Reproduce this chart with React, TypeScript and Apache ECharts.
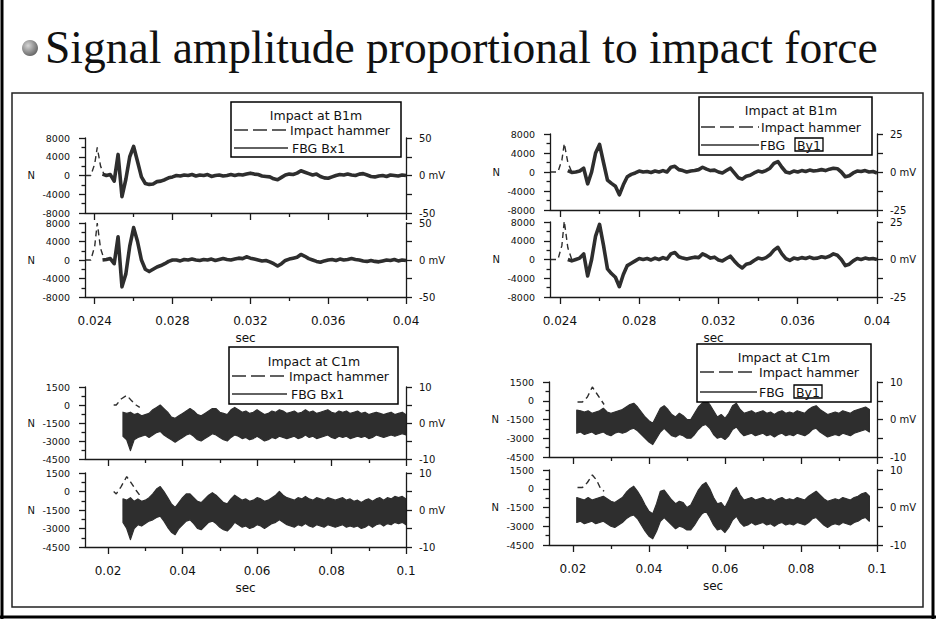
import React, { useEffect, useRef } from 'react';
import * as echarts from 'echarts';

// ---------- tick labels ----------
const X_TICKS_TOP = [0.024, 0.028, 0.032, 0.036, 0.04];
const X_MINOR_TOP = [0.026, 0.03, 0.034, 0.038];
const X_TICKS_BOTTOM = [0.02, 0.04, 0.06, 0.08, 0.1];
const X_MINOR_BOTTOM = [0.03, 0.05, 0.07, 0.09];

// ---------- impact at B1m (top panels) ----------
const TIME_TOP = [
  0.0244, 0.0246, 0.0248, 0.025, 0.0252, 0.0254, 0.0256, 0.0258, 0.026, 0.0262,
  0.0264, 0.0266, 0.0268, 0.027, 0.0272, 0.0274, 0.0276, 0.0278, 0.028, 0.0282,
  0.0284, 0.0286, 0.0288, 0.029, 0.0292, 0.0294, 0.0296, 0.0298, 0.03, 0.0302,
  0.0304, 0.0306, 0.0308, 0.031, 0.0312, 0.0314, 0.0316, 0.0318, 0.032, 0.0322,
  0.0324, 0.0326, 0.0328, 0.033, 0.0332, 0.0334, 0.0336, 0.0338, 0.034, 0.0342,
  0.0344, 0.0346, 0.0348, 0.035, 0.0352, 0.0354, 0.0356, 0.0358, 0.036, 0.0362,
  0.0364, 0.0366, 0.0368, 0.037, 0.0372, 0.0374, 0.0376, 0.0378, 0.038, 0.0382,
  0.0384, 0.0386, 0.0388, 0.039, 0.0392, 0.0394, 0.0396, 0.0398, 0.04,
];
const TL_UPPER_FBG = [
  300, 0, 200, -1200, 4500, -4500, -800, 4000, 6200, 3000,
  -300, -1700, -1900, -1800, -1300, -1200, -900, -500, -300, 0,
  -100, 100, 0, 200, -100, 100, 0, 200, -200, 0,
  100, -100, 0, 200, 0, 200, 100, 300, 500, 300,
  200, -100, -200, -300, -700, -900, -400, 100, 300, 200,
  500, 1000, 700, 400, 100, 300, -200, -500, -600, -300,
  0, 200, 100, 300, 100, 0, 300, 400, 100, -200,
  -300, -100, 0, -200, 100, 0, -100, 100, 0,
];
const TL_LOWER_FBG = [
  0, 100, 300, -800, 5000, -5800, -3000, 3000, 7000, 4000,
  0, -2000, -2500, -2000, -1500, -1200, -800, -300, 0,
  0, -200, 100, 0, 200, 0, -100, 100, 0, 200,
  -100, 100, 300, 100, 0, 200, 400, 300, 700, 400,
  200, 0, -200, -100, -400, -800, -1300, -800, -100, 200,
  400, 600, 1200, 800, 300, 0, -300, -500, -200, 0,
  100, -100, 200, 0, 100, 300, 100, 0, -200, -300,
  -100, -300, -400, -200, 0, -100, 100, -200, 0, -100,
];
const TR_UPPER_FBG = [
  300, -100, 0, 200, 800, -2500, 0, 4000, 5800, 2000,
  -1700, -2400, -3000, -4800, -2700, -1000, -500, -200, 200, 0,
  100, -100, 200, 0, 300, 0, 1000, 1200, 500, 300,
  0, 200, 300, 500, 1000, 600, 300, 400, 0, -200,
  300, 800, -200, -1200, -1500, -900, -700, -200, 200, 0,
  300, 800, 1800, 2200, 1000, 0, -200, 200, 0, 300,
  100, 400, 200, 300, 500, 300, 600, 800, 700, 0,
  -1000, -800, -200, 200, 100, 300, 0, 100, -200,
];
const TR_LOWER_FBG = [
  0, -300, 0, 300, 1200, -3500, 0, 5000, 7500, 3000,
  -2000, -3000, -3800, -5800, -3200, -1300, -800, -300, 200, 0,
  200, -100, 300, 0, 400, 100, 1200, 1500, 600, 300,
  100, 300, 500, 400, 1200, 800, 300, 500, -100, -300,
  200, 700, -300, -1200, -1800, -1000, -800, -200, 300, 100,
  400, 1000, 2000, 2600, 1200, 200, -200, 300, 100, 400,
  200, 500, 200, 300, 600, 400, 700, 1200, 900, 0,
  -1300, -1000, -300, 200, 0, 300, 100, 200, 0,
];
const HAMMER_TIME_TL = [0.0235, 0.0238, 0.024, 0.02413, 0.0243, 0.0245];
const TL_UPPER_HAMMER = [0, 0, 2500, 6000, 2000, 0];
const TL_LOWER_HAMMER = [0, 0, 3000, 8000, 2500, 0];
const HAMMER_TIME_TR = [0.0235, 0.0239, 0.0241, 0.02422, 0.0244, 0.0246];
const TR_UPPER_HAMMER = [0, 0, 2500, 6000, 2000, 0];
const TR_LOWER_HAMMER = [0, 0, 3000, 8200, 2500, 0];

// ---------- impact at C1m (bottom panels): band envelopes ----------
const TIME_BL = [
  0.024, 0.025, 0.026, 0.027, 0.028, 0.029, 0.03, 0.031, 0.032, 0.033,
  0.034, 0.035, 0.036, 0.037, 0.038, 0.039, 0.04, 0.041, 0.042, 0.043,
  0.044, 0.045, 0.046, 0.047, 0.048, 0.049, 0.05, 0.051, 0.052, 0.053,
  0.054, 0.055, 0.056, 0.057, 0.058, 0.059, 0.06, 0.061, 0.062, 0.063,
  0.064, 0.065, 0.066, 0.067, 0.068, 0.069, 0.07, 0.071, 0.072, 0.073,
  0.074, 0.075, 0.076, 0.077, 0.078, 0.079, 0.08, 0.081, 0.082, 0.083,
  0.084, 0.085, 0.086, 0.087, 0.088, 0.089, 0.09, 0.091, 0.092, 0.093,
  0.094, 0.095, 0.096, 0.097, 0.098, 0.099, 0.1,
];
const BL_UPPER_TOP = [
  -600, -700, -600, -800, -700, -900, -800, -700, -400, -200,
  0, -300, -600, -1000, -1100, -900, -700, -500, -300, -500,
  -800, -900, -700, -500, -300, -300, -600, -700, -800, -400,
  -200, -400, -600, -500, -700, -600, -400, -600, -800, -700,
  -500, -600, -400, -500, -700, -600, -500, -700, -600, -400,
  -600, -500, -700, -600, -500, -400, -600, -700, -500, -600,
  -500, -700, -600, -500, -700, -600, -800, -700, -600, -700,
  -800, -700, -600, -800, -700, -600, -800,
];
const BL_UPPER_BOTTOM = [
  -2600, -2900, -3800, -2900, -2700, -2600, -2500, -2700, -2500, -2300,
  -2200, -2500, -2700, -2900, -3100, -2900, -2700, -2500, -2400, -2600,
  -2900, -3000, -2800, -2600, -2400, -2500, -2700, -2900, -3000, -2700,
  -2500, -2600, -2800, -2700, -2900, -2800, -2600, -2800, -3000, -2900,
  -2700, -2800, -2600, -2700, -2800, -2700, -2600, -2800, -2700, -2500,
  -2700, -2600, -2800, -2700, -2600, -2500, -2700, -2800, -2600, -2700,
  -2600, -2800, -2700, -2600, -2700, -2600, -2800, -2700, -2500, -2600,
  -2700, -2600, -2500, -2600, -2500, -2400, -2500,
];
const BL_LOWER_TOP = [
  -600, -700, -500, -800, -600, -800, -700, -500, -200, 200,
  400, 0, -500, -1000, -1300, -900, -500, -200, -200, -500,
  -800, -900, -600, -300, -100, -300, -600, -900, -1000, -600,
  -300, -500, -700, -600, -800, -700, -500, -600, -800, -700,
  -500, -300, 0, -300, -500, -600, -700, -500, -600, -400,
  -600, -700, -500, -600, -700, -500, -600, -700, -600, -500,
  -700, -600, -800, -700, -900, -700, -600, -800, -600, -500,
  -700, -500, -600, -400, -500, -400, -600,
];
const BL_LOWER_BOTTOM = [
  -2500, -3000, -3900, -3000, -2700, -2800, -2600, -2400, -2300, -2100,
  -2000, -2400, -2900, -3300, -3500, -3000, -2700, -2400, -2300, -2600,
  -3000, -3100, -2800, -2500, -2400, -2600, -2900, -3100, -3200, -2900,
  -2500, -2700, -2900, -2800, -3000, -2900, -2700, -2800, -3000, -2800,
  -2600, -2500, -2300, -2500, -2700, -2800, -2900, -2700, -2800, -2600,
  -2800, -2900, -2700, -2800, -2900, -2700, -2800, -2900, -2800, -2700,
  -2900, -2800, -2900, -2800, -3000, -2900, -2700, -2900, -2700, -2600,
  -2800, -2600, -2700, -2500, -2600, -2500, -2700,
];
const TIME_BR = [
  0.021, 0.022, 0.023, 0.024, 0.025, 0.026, 0.027, 0.028, 0.029, 0.03,
  0.031, 0.032, 0.033, 0.034, 0.035, 0.036, 0.037, 0.038, 0.039, 0.04,
  0.041, 0.042, 0.043, 0.044, 0.045, 0.046, 0.047, 0.048, 0.049, 0.05,
  0.051, 0.052, 0.053, 0.054, 0.055, 0.056, 0.057, 0.058, 0.059, 0.06,
  0.061, 0.062, 0.063, 0.064, 0.065, 0.066, 0.067, 0.068, 0.069, 0.07,
  0.071, 0.072, 0.073, 0.074, 0.075, 0.076, 0.077, 0.078, 0.079, 0.08,
  0.081, 0.082, 0.083, 0.084, 0.085, 0.086, 0.087, 0.088, 0.089, 0.09,
  0.091, 0.092, 0.093, 0.094, 0.095, 0.096, 0.097, 0.098,
];
const BR_UPPER_TOP = [
  -750, -800, -900, -800, -1000, -900, -800, -600, -900, -1000,
  -900, -800, -700, -500, -300, -200, -500, -900, -1300, -1600,
  -1800, -1200, -600, -400, -700, -1100, -1300, -1000, -1200, -1500,
  -1500, -1000, -500, -200, 100, -300, -800, -1300, -1100, -1400,
  -1000, -400, -200, -700, -1000, -900, -800, -1000, -900, -800,
  -1000, -900, -1100, -900, -800, -1000, -900, -1000, -800, -900,
  -1000, -700, -500, -400, -700, -900, -1100, -1000, -900, -1000,
  -800, -900, -1000, -800, -700, -600, -500, -700,
];
const BR_UPPER_BOTTOM = [
  -2600, -2500, -2700, -2600, -2500, -2700, -2600, -2500, -2700, -2800,
  -2600, -2500, -2600, -2500, -2300, -2200, -2400, -2700, -3000, -3300,
  -3500, -3000, -2500, -2200, -2500, -2800, -2900, -2700, -2800, -3000,
  -3000, -2700, -2300, -2000, -1900, -2200, -2700, -3000, -2900, -3100,
  -2800, -2300, -2100, -2500, -2800, -2700, -2600, -2800, -2700, -2600,
  -2800, -2700, -2900, -2700, -2600, -2800, -2700, -2800, -2600, -2700,
  -2800, -2600, -2300, -2200, -2500, -2700, -2900, -2800, -2700, -2800,
  -2600, -2700, -2800, -2600, -2500, -2400, -2300, -2500,
];
const BR_LOWER_TOP = [
  -700, -800, -900, -700, -900, -800, -700, -600, -800, -1000,
  -1100, -900, -700, -300, 0, 200, -200, -700, -1300, -1800,
  -2000, -1200, -200, -100, -500, -900, -1200, -1000, -1100, -1500,
  -1300, -700, -100, 300, 500, 0, -700, -1200, -1100, -1500,
  -900, -200, 100, -500, -900, -800, -700, -900, -800, -700,
  -900, -800, -1000, -800, -700, -900, -800, -900, -700, -800,
  -900, -600, -400, -200, -500, -800, -1000, -900, -800, -900,
  -700, -800, -900, -700, -600, -400, -300, -600,
];
const BR_LOWER_BOTTOM = [
  -2700, -2600, -2800, -2700, -2600, -2800, -2700, -2600, -2800, -3000,
  -3100, -2900, -2700, -2400, -2200, -2100, -2400, -2900, -3400, -3800,
  -4000, -3400, -2600, -2300, -2600, -2900, -3200, -3000, -3100, -3300,
  -3300, -2900, -2400, -2000, -1800, -2300, -2900, -3300, -3200, -3500,
  -3100, -2500, -2200, -2700, -3000, -2900, -2700, -2900, -2800, -2700,
  -2900, -2800, -3000, -2800, -2700, -2900, -2800, -2900, -2700, -2800,
  -2900, -2700, -2400, -2300, -2600, -2900, -3100, -2900, -2800, -2900,
  -2700, -2800, -2900, -2700, -2600, -2400, -2300, -2600,
];
const HAMMER_TIME_BL = [0.0215, 0.0222, 0.0235, 0.025, 0.0262, 0.0275, 0.0285];
const BL_UPPER_HAMMER = [0, 0, 500, 800, 400, 0, -200];
const BL_LOWER_HAMMER = [0, -200, 400, 1200, 700, 100, -300];
const HAMMER_TIME_BR = [0.0212, 0.0225, 0.0238, 0.0251, 0.0262, 0.0273, 0.0282];
const BR_UPPER_HAMMER = [-100, -100, 300, 1100, 600, 100, -300];
const BR_LOWER_HAMMER = [100, 100, 500, 1100, 700, 0, -200];

// ---------- styling ----------
const INK = '#2e2e2e';
const AXIS = '#1a1a1a';
const SANS = '"DejaVu Sans", sans-serif';

const zip = (a: number[], b: number[]) => a.map((t, i) => [t, b[i]]);

type Sub = {
  time: number[];
  fbg?: number[];
  top?: number[];
  bottom?: number[];
  ht: number[];
  hv: number[];
};
type Panel = {
  left: number;
  width: number;
  tops: number[];
  heights: number[];
  xr: number[];
  major: number[];
  minor: number[];
  y: number[];
  r: number[];
  subs: Sub[];
};

const PANELS: Panel[] = [
  {
    left: 85, width: 321, tops: [138, 223], heights: [75, 74], xr: [0.0235, 0.04],
    major: X_TICKS_TOP, minor: X_MINOR_TOP, y: [-8000, 8000, 4000], r: [-50, 50, 25],
    subs: [
      { time: TIME_TOP, fbg: TL_UPPER_FBG, ht: HAMMER_TIME_TL, hv: TL_UPPER_HAMMER },
      { time: TIME_TOP, fbg: TL_LOWER_FBG, ht: HAMMER_TIME_TL, hv: TL_LOWER_HAMMER },
    ],
  },
  {
    left: 550, width: 327, tops: [134, 222], heights: [76, 75], xr: [0.0235, 0.04],
    major: X_TICKS_TOP, minor: X_MINOR_TOP, y: [-8000, 8000, 4000], r: [-25, 25, 12.5],
    subs: [
      { time: TIME_TOP, fbg: TR_UPPER_FBG, ht: HAMMER_TIME_TR, hv: TR_UPPER_HAMMER },
      { time: TIME_TOP, fbg: TR_LOWER_FBG, ht: HAMMER_TIME_TR, hv: TR_LOWER_HAMMER },
    ],
  },
  {
    left: 85, width: 321, tops: [387, 473], heights: [72, 74], xr: [0.0138, 0.1],
    major: X_TICKS_BOTTOM, minor: X_MINOR_BOTTOM, y: [-4500, 1500, 1500], r: [-10, 10, 5],
    subs: [
      { time: TIME_BL, top: BL_UPPER_TOP, bottom: BL_UPPER_BOTTOM, ht: HAMMER_TIME_BL, hv: BL_UPPER_HAMMER },
      { time: TIME_BL, top: BL_LOWER_TOP, bottom: BL_LOWER_BOTTOM, ht: HAMMER_TIME_BL, hv: BL_LOWER_HAMMER },
    ],
  },
  {
    left: 549, width: 328, tops: [382, 470], heights: [75, 75], xr: [0.0137, 0.1],
    major: X_TICKS_BOTTOM, minor: X_MINOR_BOTTOM, y: [-4500, 1500, 1500], r: [-10, 10, 5],
    subs: [
      { time: TIME_BR, top: BR_UPPER_TOP, bottom: BR_UPPER_BOTTOM, ht: HAMMER_TIME_BR, hv: BR_UPPER_HAMMER },
      { time: TIME_BR, top: BR_LOWER_TOP, bottom: BR_LOWER_BOTTOM, ht: HAMMER_TIME_BR, hv: BR_LOWER_HAMMER },
    ],
  },
];

type Leg = {
  x: number; y: number; w: number; h: number; title: string; tx: number; ty: number;
  dashY: number; solidY: number; lx1: number; lx2: number; hx: number; fx: number;
  fbg: string; boxed?: string; bx?: number;
};
const LEGENDS: Leg[] = [
  { x: 231, y: 102, w: 170, h: 55, title: 'Impact at B1m', tx: 316, ty: 115, dashY: 130, solidY: 148, lx1: 234, lx2: 288, hx: 290, fx: 292, fbg: 'FBG Bx1' },
  { x: 699, y: 97, w: 173, h: 58, title: 'Impact at B1m', tx: 791, ty: 110, dashY: 127, solidY: 145, lx1: 701, lx2: 759, hx: 761, fx: 760, fbg: 'FBG', boxed: 'By1', bx: 795 },
  { x: 229, y: 347, w: 169, h: 57, title: 'Impact at C1m', tx: 314, ty: 361, dashY: 376, solidY: 394, lx1: 232, lx2: 287, hx: 289, fx: 291, fbg: 'FBG Bx1' },
  { x: 697, y: 344, w: 174, h: 58, title: 'Impact at C1m', tx: 784, ty: 357, dashY: 372, solidY: 392, lx1: 700, lx2: 757, hx: 759, fx: 759, fbg: 'FBG', boxed: 'By1', bx: 794 },
];

function txt(x: number, y: number, text: string, size: number, align: string, family = SANS, z = 50) {
  return {
    type: 'text', x, y, z, silent: true,
    style: {
      text, fill: '#111', font: `${size}px ${family}`, fontSize: size, fontFamily: family,
      textAlign: align, align, textVerticalAlign: 'middle', verticalAlign: 'middle',
    },
  };
}

function legendElements(l: Leg): any[] {
  const els: any[] = [
    { type: 'rect', z: 40, shape: { x: l.x, y: l.y, width: l.w, height: l.h }, style: { fill: '#fff', stroke: '#000', lineWidth: 1.5 } },
    txt(l.tx, l.ty, l.title, 12.5, 'center'),
    { type: 'line', z: 50, shape: { x1: l.lx1, y1: l.dashY, x2: l.lx2, y2: l.dashY }, style: { stroke: INK, lineWidth: 1.3, lineDash: [14, 5] } },
    txt(l.hx, l.dashY, 'Impact hammer', 12.5, 'left'),
    { type: 'line', z: 50, shape: { x1: l.lx1, y1: l.solidY, x2: l.lx2, y2: l.solidY }, style: { stroke: INK, lineWidth: 1.3 } },
    txt(l.fx, l.solidY, l.fbg, 12.5, 'left'),
  ];
  if (l.boxed && l.bx) {
    els.push({ type: 'rect', z: 50, shape: { x: l.bx, y: l.solidY - 7, width: 28, height: 13 }, style: { fill: 'none', stroke: '#000', lineWidth: 1.3 } });
    els.push(txt(l.bx + 2, l.solidY, l.boxed, 12.5, 'left'));
  }
  return els;
}

function bandSeries(s: Sub, xi: number, yi: number) {
  const time = s.time;
  const top = s.top as number[];
  const bottom = s.bottom as number[];
  return {
    type: 'custom', xAxisIndex: xi, yAxisIndex: yi, silent: true, z: 3, clip: true,
    data: time.map((t, i) => [t, top[i], bottom[i]]),
    encode: { x: 0, y: [1, 2] },
    renderItem: (params: any, api: any) => {
      if (params.dataIndex !== 0) return null;
      const upper = time.map((t, i) => api.coord([t, top[i]]));
      const lower = time.map((t, i) => api.coord([t, bottom[i]])).reverse();
      return {
        type: 'polygon',
        shape: { points: upper.concat(lower) },
        style: { fill: INK, stroke: INK, lineWidth: 1.2, lineJoin: 'round' },
      };
    },
  };
}

function buildOption() {
  const grid: any[] = [];
  const xAxis: any[] = [];
  const yAxis: any[] = [];
  const series: any[] = [];
  const axisLine = { show: true, onZero: false, lineStyle: { color: AXIS, width: 1.3 } };
  const tickLine = { color: AXIS, width: 1.3 };

  PANELS.forEach((p) => {
    p.subs.forEach((s, j) => {
      const g = grid.length;
      const lower = j === 1;
      grid.push({ left: p.left, top: p.tops[j], width: p.width, height: p.heights[j], containLabel: false, outerBoundsMode: 'none' });
      xAxis.push({
        gridIndex: g, type: 'value', min: p.xr[0], max: p.xr[1], position: 'bottom', z: 10,
        axisLine, splitLine: { show: false },
        axisTick: { show: true, customValues: p.major, length: 7, inside: false, lineStyle: tickLine },
        axisLabel: { show: lower, customValues: p.major, margin: 18, fontSize: 12, fontFamily: SANS, color: '#111' },
        name: lower ? 'sec' : '', nameLocation: 'middle', nameGap: 35, nameMoveOverlap: false,
        nameTextStyle: { fontSize: 12, fontFamily: SANS, color: '#111' },
      });
      xAxis.push({
        gridIndex: g, type: 'value', min: p.xr[0], max: p.xr[1], position: 'bottom', z: 10,
        axisLine: { show: false, onZero: false }, splitLine: { show: false },
        axisTick: { show: true, customValues: p.minor, length: 4, lineStyle: tickLine },
        axisLabel: { show: false },
      });
      yAxis.push({
        gridIndex: g, type: 'value', position: 'left', min: p.y[0], max: p.y[1], interval: p.y[2], z: 10,
        axisLine, splitLine: { show: false },
        axisTick: { show: true, length: 6, lineStyle: tickLine },
        minorTick: { show: true, splitNumber: 2, length: 3.5, lineStyle: tickLine },
        minorSplitLine: { show: false },
        axisLabel: { margin: 15, fontSize: 9.5, fontFamily: SANS, color: '#111', formatter: (v: number) => String(v) },
        name: 'N', nameLocation: 'middle', nameRotate: 0, nameGap: 50, nameMoveOverlap: false,
        nameTextStyle: { fontSize: 10, fontFamily: SANS, color: '#111' },
      });
      const rMax = p.r[1];
      yAxis.push({
        gridIndex: g, type: 'value', position: 'right', min: p.r[0], max: p.r[1], interval: p.r[2], z: 10,
        axisLine, splitLine: { show: false },
        axisTick: { show: true, length: 6, lineStyle: tickLine },
        axisLabel: {
          margin: 13, fontSize: 10, fontFamily: SANS, color: '#111',
          formatter: (v: number) => (v === 0 ? '0 mV' : Math.abs(v) === rMax ? String(v) : ''),
        },
      });

      const xi = 2 * g;
      const yi = 2 * g;
      if (s.fbg) {
        series.push({
          type: 'line', xAxisIndex: xi, yAxisIndex: yi, data: zip(s.time, s.fbg), symbol: 'none',
          silent: true, z: 3, lineStyle: { color: INK, width: 3.6, join: 'round' },
        });
      } else if (s.top && s.bottom) {
        series.push(bandSeries(s, xi, yi));
      }
      series.push({
        type: 'line', xAxisIndex: xi, yAxisIndex: yi, data: zip(s.ht, s.hv), symbol: 'none',
        silent: true, z: 4, lineStyle: { color: INK, width: 1.4, type: [6, 4] },
      });
    });
  });

  const graphic: any[] = [
    { type: 'line', z: 60, shape: { x1: 2, y1: 0, x2: 2, y2: 619 }, style: { stroke: '#000', lineWidth: 3 } },
    { type: 'line', z: 60, shape: { x1: 933, y1: 0, x2: 933, y2: 619 }, style: { stroke: '#000', lineWidth: 3 } },
    { type: 'line', z: 60, shape: { x1: 0, y1: 617, x2: 936, y2: 617 }, style: { stroke: '#000', lineWidth: 3 } },
    { type: 'rect', z: 60, shape: { x: 12, y: 93, width: 911, height: 514 }, style: { fill: 'none', stroke: '#222', lineWidth: 1.5 } },
    {
      type: 'circle', z: 60, shape: { cx: 30, cy: 48, r: 8 },
      style: {
        fill: {
          type: 'radial', x: 0.38, y: 0.35, r: 0.75,
          colorStops: [{ offset: 0, color: '#d6d6d6' }, { offset: 0.6, color: '#8a8a8a' }, { offset: 1, color: '#5a5a5a' }],
        },
      },
    },
    txt(45, 47, 'Signal amplitude proportional to impact force', 45.5, 'left', '"Liberation Serif", serif', 60),
  ];
  LEGENDS.forEach((l) => graphic.push(...legendElements(l)));

  return {
    animation: false,
    backgroundColor: '#ffffff',
    grid, xAxis, yAxis, series, graphic,
  };
}

export default function App() {
  const ref = useRef<HTMLDivElement>(null);
  useEffect(() => {
    if (!ref.current) return;
    const chart = echarts.init(ref.current, null, { renderer: 'svg', width: 936, height: 619 });
    chart.setOption(buildOption() as any);
    return () => chart.dispose();
  }, []);
  return (
    <div
      ref={ref}
      style={{ position: 'absolute', left: 0, top: 0, width: 936, height: 619, background: '#fff' }}
    />
  );
}
